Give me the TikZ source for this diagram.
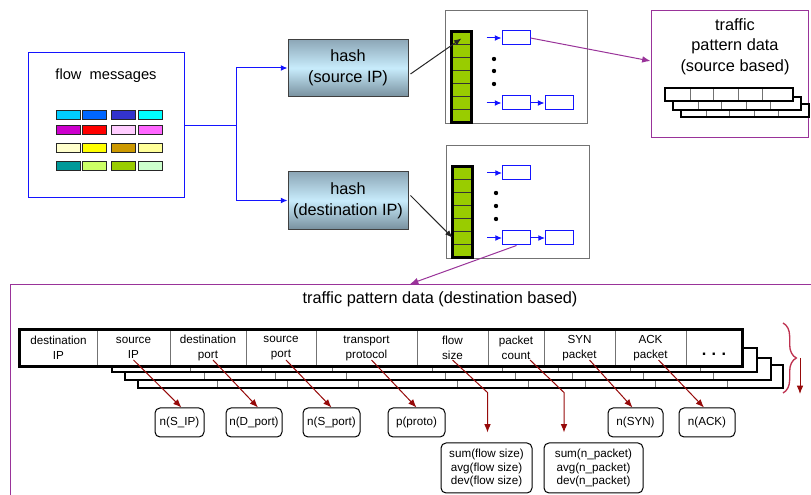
\documentclass[tikz,border=0pt]{standalone}
\usepackage{fontspec}
\setmainfont{Liberation Sans}
\usetikzlibrary{arrows.meta,positioning,decorations.pathreplacing}
\newdimen\pxu \pxu=0.6pt
\newcommand\bigfont{\fontsize{9.8}{12.4}\selectfont}
\newcommand\cellfont{\fontsize{7}{9}\selectfont}
\newcommand\statfont{\fontsize{7}{8.1}\selectfont}
\definecolor{flowc}{RGB}{20,20,255}
\definecolor{linkc}{RGB}{153,51,153}
\definecolor{statc}{RGB}{150,10,10}
\definecolor{bracec}{RGB}{190,50,80}
\definecolor{bucketc}{RGB}{153,204,0}
\definecolor{hashtop}{RGB}{140,166,182}
\definecolor{hashmid}{RGB}{200,236,252}
\definecolor{hashbot}{RGB}{120,144,158}
% message colours, row by row
\definecolor{m11}{RGB}{0,204,255}   \definecolor{m12}{RGB}{0,102,255}
\definecolor{m13}{RGB}{51,51,204}   \definecolor{m14}{RGB}{0,255,255}
\definecolor{m21}{RGB}{204,0,204}   \definecolor{m22}{RGB}{255,0,0}
\definecolor{m23}{RGB}{255,204,255} \definecolor{m24}{RGB}{255,102,255}
\definecolor{m31}{RGB}{255,255,204} \definecolor{m32}{RGB}{255,255,0}
\definecolor{m33}{RGB}{204,153,0}   \definecolor{m34}{RGB}{255,255,153}
\definecolor{m41}{RGB}{0,153,153}   \definecolor{m42}{RGB}{204,255,102}
\definecolor{m43}{RGB}{153,204,0}   \definecolor{m44}{RGB}{204,255,204}

\begin{document}
\begin{tikzpicture}[x=0.6pt,y=-0.6pt,font=\bigfont,line width=0.6pt,
  msgframe/.style={draw=flowc},
  hashbox/.style={draw=black!75,top color=hashtop,bottom color=hashbot,middle color=hashmid,
    minimum width=120\pxu,minimum height=57.5\pxu,align=center,inner sep=0pt},
  tableframe/.style={draw=black!55},
  bucket/.style={draw=black!80,fill=bucketc,minimum width=19\pxu,minimum height=12.857\pxu,inner sep=0pt},
  slot/.style={draw=flowc,minimum width=28\pxu,minimum height=14\pxu,inner sep=0pt},
  patframe/.style={draw=linkc},
  cell/.style={draw=black!55,fill=white,minimum height=36\pxu,inner sep=0pt,align=center,font=\cellfont},
  statbox/.style={draw,rounded corners=3pt,align=center,font=\statfont,inner sep=0pt,minimum height=29\pxu},
  flowarr/.style={flowc,-{Latex[length=4pt,width=3.5pt]}},
  hasharr/.style={black!85,-{Latex[length=4.5pt,width=3.5pt]}},
  linkarr/.style={linkc,-{Latex[length=5pt,width=4pt]}},
  statarr/.style={statc,-{Latex[length=5pt,width=4pt]}}]
\useasboundingbox (0,0) rectangle (811,495);
\clip (0,0) rectangle (811,495);

% flow messages
\node[msgframe,minimum width=156\pxu,minimum height=145\pxu] (flow) at (106,125.5) {};
\node[font=\fontsize{8.8}{10}\selectfont] (flowlbl) at (106,76) {flow\ \ messages};
\foreach \r/\y in {1/111,2/126,3/144,4/162}
  \foreach \k/\x in {1/56,2/82,3/111,4/138}
    \draw[black!85,fill=m\r\k] (\x,\y) rectangle ++(24,9);

% hashing
\node[hashbox] (hsrc) at (348,68) {hash\\(source IP)};
\node[hashbox] (hdst) at (348,200.5) {hash\\(destination IP)};
\coordinate (split) at (236,125.5);
\draw[flowc] (flow.east) -- (split);
\draw[flowarr] (split) |- (hsrc.west);
\draw[flowarr] (split) |- (hdst.west);

% hash tables with buckets and chains
\node[tableframe,minimum width=142\pxu,minimum height=113\pxu] (tsrc) at (516,67.5) {};
\node[tableframe,minimum width=143\pxu,minimum height=113\pxu] (tdst) at (517.5,202.5) {};
\foreach \j in {0,...,6} {
  \node[bucket] (bs\j) at (461.5,{38.43+12.857*\j}) {};
  \node[bucket] (bd\j) at (462.5,{173.43+12.857*\j}) {};
}
\draw[line width=1.6pt] (bs0.north west) rectangle (bs6.south east);
\draw[line width=1.6pt] (bd0.north west) rectangle (bd6.south east);
\draw[hasharr] ([shift={(2,6)}]hsrc.east) -- (bs0.center);
\draw[hasharr] ([shift={(2,-5)}]hdst.east) -- (bd5.west);

\node[slot] (ls1) at (516,38) {};
\node[slot] (ls2) at (516,103) {};
\node[slot,right=8.4pt of ls2] (ls3) {};
\draw[flowarr] ([xshift=-15\pxu]ls1.west) -- (ls1.west);
\draw[flowarr] ([xshift=-15\pxu]ls2.west) -- (ls2.west);
\draw[flowarr] (ls2) -- (ls3);
\foreach \y in {59,71,84} \fill (494,\y) circle (1.3pt);

\node[slot] (ld1) at (516.5,173) {};
\node[slot] (ld2) at (516.5,238) {};
\node[slot,right=8.4pt of ld2] (ld3) {};
\draw[flowarr] ([xshift=-15\pxu]ld1.west) -- (ld1.west);
\draw[flowarr] ([xshift=-15\pxu]ld2.west) -- (ld2.west);
\draw[flowarr] (ld2) -- (ld3);
\foreach \y in {193,206,219} \fill (496,\y) circle (1.3pt);

% source based pattern data
\node[patframe,minimum width=157\pxu,minimum height=127\pxu] (spat) at (729.5,74.5) {};
\node[align=center] (spatlbl) at (735,46.5) {traffic\\pattern data\\(source based)};
\draw[linkarr] (ls1.east) -- ([yshift=13.5\pxu]spat.west);
\foreach \dx/\dy in {16/16,8/9,0/0} {
  \fill[white] (665+\dx,88+\dy) rectangle ++(128,13);
  \foreach \c in {25,48,73,97} \draw[black!55] (665+\dx+\c,88+\dy) -- ++(0,13);
  \draw[line width=1.3pt] (665+\dx,88+\dy) rectangle ++(128,13);
}

% destination based pattern data
\node[patframe,anchor=north west,minimum width=830\pxu,minimum height=240\pxu] (dpat) at (10,284) {};
\node (dpatlbl) at (440,299) {traffic pattern data (destination based)};
\draw[linkarr] (ld2.south) -- ([xshift=400\pxu]dpat.north west);

% records stacked behind the first one
\foreach \l/\t/\r/\b/\cuts in {138/365/783/388/{217,287,358,457,528,585,655,727},
    125/358/771/380/{204,275,346,445,515,572,643,713},
    112/348/757/372/{190,261,332,432,502,558,630,700}} {
  \fill[white] (\l,\t) rectangle (\r,\b);
  \foreach \c in \cuts \draw[black!55] (\c,\t) -- (\c,\b);
  \draw[line width=1.3pt] (\l,\t) rectangle (\r,\b);
}
\foreach \l/\r/\txt/\nm in {20/97/{destination\\IP}/cdip, 97/170/{source\\IP}/csip,
    170/246/{destination\\port}/cdport, 246/316/{source\\port}/csport,
    316/417/{transport\\protocol}/cproto, 417/488/{flow\\size}/cfsize,
    488/544/{packet\\count}/cpcount, 544/615/{SYN\\packet}/csyn,
    615/686/{ACK\\packet}/cack, 686/742/{\bigfont\rule{0pt}{9pt}\textbf{.\,\,.\,\,.}}/cmore}
  \node[cell,minimum width={(\r-\l)*\pxu}] (\nm) at ({(\l+\r)/2},348) {\txt};
\draw[line width=1.3pt] (cdip.north west) rectangle (cmore.south east);

% per field statistics
\node[statbox,minimum width=49\pxu] (nsip) at (179.5,422.5) {n(S\_IP)};
\node[statbox,minimum width=56\pxu] (ndport) at (254,422.5) {n(D\_port)};
\node[statbox,minimum width=57\pxu] (nsport) at (331.5,422.5) {n(S\_port)};
\node[statbox,minimum width=57\pxu] (pproto) at (416.5,422.5) {p(proto)};
\node[statbox,minimum width=55\pxu] (nsyn) at (635.5,422.5) {n(SYN)};
\node[statbox,minimum width=56\pxu] (nack) at (707,422.5) {n(ACK)};
\node[statbox,minimum width=91\pxu,minimum height=50\pxu] (sfsize) at (486.5,468)
  {sum(flow size)\\avg(flow size)\\dev(flow size)};
\node[statbox,minimum width=99\pxu,minimum height=50\pxu] (spkt) at (593.5,468)
  {sum(n\_packet)\\avg(n\_packet)\\dev(n\_packet)};

\draw[statarr] ([yshift=-12\pxu]csip.center) -- ([xshift=2\pxu]nsip.north);
\draw[statarr] ([shift={(5,12)}]cdport.center) -- ([xshift=4\pxu]ndport.north);
\draw[statarr] ([shift={(5,12)}]csport.center) -- (nsport.north);
\draw[statarr] ([shift={(5,12)}]cproto.center) -- (pproto.north);
\draw[statarr] ([yshift=-12\pxu]cfsize.center) -- ([shift={(1,-50)}]sfsize.north)
  -- ([shift={(1,-10)}]sfsize.north);
\draw[statarr] ([shift={(14,12)}]cpcount.center) -- ([shift={(-29.5,-50)}]spkt.north)
  -- ([shift={(-29.5,-10)}]spkt.north);
\draw[statarr] ([shift={(10,12)}]csyn.center) -- ([xshift=-3\pxu]nsyn.north);
\draw[statarr] ([shift={(8,12)}]cack.center) -- ([xshift=-3\pxu]nack.north);

% depth of the record stack
\draw[bracec,line width=0.8pt,decorate,decoration={brace,amplitude=8pt}] (783,323) -- (783,393);
\coordinate (depth0) at (800,358);
\coordinate (depth1) at (800,394);
\draw[statarr] (depth0) -- (depth1);
\end{tikzpicture}
\end{document}
